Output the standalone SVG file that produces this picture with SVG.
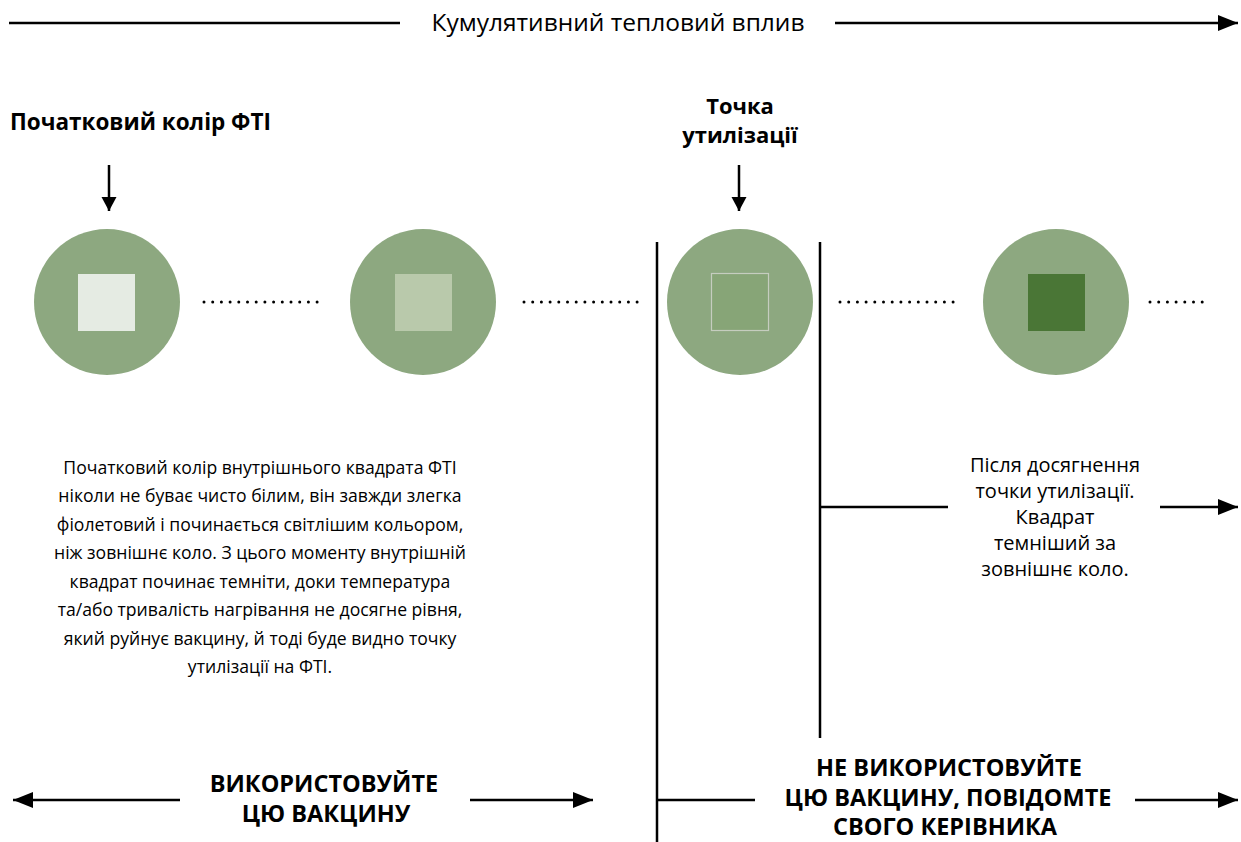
<svg xmlns="http://www.w3.org/2000/svg" width="1241" height="842" viewBox="0 0 1241 842">
<defs>
<marker id="ah" markerUnits="userSpaceOnUse" markerWidth="20" markerHeight="16" refX="20" refY="8" orient="auto">
<path d="M0,0 L20,8 L0,16 Z" fill="#000"/>
</marker>
<marker id="ahs" markerUnits="userSpaceOnUse" markerWidth="14" markerHeight="16" refX="14" refY="7.5" orient="auto">
<path d="M0,0 L14,7.5 L0,15 Z" fill="#000"/>
</marker>
<style>
.t{font-family:"Open Sans","Liberation Sans",sans-serif;fill:#000}
.b{font-family:"Open Sans","Liberation Sans",sans-serif;font-weight:bold;fill:#000}
.ln{stroke:#000;stroke-width:2.5;fill:none}
.dots{stroke:#000;stroke-width:3;stroke-linecap:round;stroke-dasharray:0 8.7;fill:none}
.circ{fill:#8da880}
</style>
</defs>
<rect width="1241" height="842" fill="#fff"/>
<text class="t" x="618" y="31" font-size="24.5" text-anchor="middle">Кумулятивний тепловий вплив</text>
<g id="connectors">
<line class="ln" x1="9" y1="23" x2="400" y2="23" stroke-width="3"/>
<line class="ln" x1="835" y1="23" x2="1238" y2="23" stroke-width="3" marker-end="url(#ah)"/>
<line class="ln" x1="109" y1="165" x2="109" y2="211" stroke-width="2" marker-end="url(#ahs)"/>
<line class="ln" x1="739" y1="165" x2="739" y2="211" stroke-width="2" marker-end="url(#ahs)"/>
<line class="dots" x1="204" y1="302" x2="318" y2="302"/>
<line class="dots" x1="524" y1="302" x2="638" y2="302"/>
<line class="dots" x1="840" y1="302" x2="958" y2="302"/>
<line class="dots" x1="1150" y1="302" x2="1210" y2="302"/>
<line class="ln" x1="657" y1="242" x2="657" y2="842" stroke-width="2"/>
<line class="ln" x1="820" y1="242" x2="820" y2="738" stroke-width="2"/>
<line class="ln" x1="820" y1="507" x2="948" y2="507"/>
<line class="ln" x1="1160" y1="507" x2="1238" y2="507" marker-end="url(#ah)"/>
<line class="ln" x1="180" y1="800" x2="13" y2="800" marker-end="url(#ah)"/>
<line class="ln" x1="470" y1="800" x2="593" y2="800" marker-end="url(#ah)"/>
<line class="ln" x1="657" y1="800" x2="755" y2="800"/>
<line class="ln" x1="1135" y1="800" x2="1238" y2="800" marker-end="url(#ah)"/>
</g>
<g id="label-start">
<text class="b" x="10" y="130" font-size="22.5">Початковий колір ФТІ</text>
</g>
<g id="label-disposal">
<text class="b" x="740" y="114" font-size="22" text-anchor="middle">Точка</text>
<text class="b" x="740" y="143" font-size="22" text-anchor="middle">утилізації</text>
</g>
<g id="node1">
<circle class="circ" cx="107" cy="302" r="73"/>
<rect x="78" y="274" width="57" height="57" fill="#e5ebe3"/>
</g>
<g id="node2">
<circle class="circ" cx="423" cy="302" r="73"/>
<rect x="395" y="274" width="57" height="57" fill="#b9c9ab"/>
</g>
<g id="node3">
<circle class="circ" cx="740" cy="302" r="73"/>
<rect x="711.5" y="273.5" width="57" height="57" fill="#87a577" stroke="#c5cdbf" stroke-width="1.2"/>
</g>
<g id="node4">
<circle class="circ" cx="1056" cy="302" r="73"/>
<rect x="1028" y="274" width="57" height="57" fill="#4a7636"/>
</g>
<g id="text-left" font-size="17.6">
<text class="t" text-anchor="middle" x="260" y="474">Початковий колір внутрішнього квадрата ФТІ</text>
<text class="t" text-anchor="middle" x="260" y="502">ніколи не буває чисто білим, він завжди злегка</text>
<text class="t" text-anchor="middle" x="260" y="531">фіолетовий і починається світлішим кольором,</text>
<text class="t" text-anchor="middle" x="260" y="559">ніж зовнішнє коло. З цього моменту внутрішній</text>
<text class="t" text-anchor="middle" x="260" y="588">квадрат починає темніти, доки температура</text>
<text class="t" text-anchor="middle" x="260" y="616">та/або тривалість нагрівання не досягне рівня,</text>
<text class="t" text-anchor="middle" x="260" y="645">який руйнує вакцину, й тоді буде видно точку</text>
<text class="t" text-anchor="middle" x="260" y="673">утилізації на ФТІ.</text>
</g>
<g id="text-right" font-size="20">
<text class="t" text-anchor="middle" x="1055" y="472">Після досягнення</text>
<text class="t" text-anchor="middle" x="1055" y="498">точки утилізації.</text>
<text class="t" text-anchor="middle" x="1055" y="524">Квадрат</text>
<text class="t" text-anchor="middle" x="1055" y="550">темніший за</text>
<text class="t" text-anchor="middle" x="1055" y="576">зовнішнє коло.</text>
</g>
<g id="label-use">
<text class="b" x="324" y="792" font-size="23.5" text-anchor="middle">ВИКОРИСТОВУЙТЕ</text>
<text class="b" x="326" y="822" font-size="23.5" text-anchor="middle">ЦЮ ВАКЦИНУ</text>
</g>
<g id="label-dont-use">
<text class="b" x="949" y="776" font-size="23.5" text-anchor="middle">НЕ ВИКОРИСТОВУЙТЕ</text>
<text class="b" x="948" y="806" font-size="23.5" text-anchor="middle">ЦЮ ВАКЦИНУ, ПОВІДОМТЕ</text>
<text class="b" x="945" y="835" font-size="23.5" text-anchor="middle">СВОГО КЕРІВНИКА</text>
</g>
</svg>
